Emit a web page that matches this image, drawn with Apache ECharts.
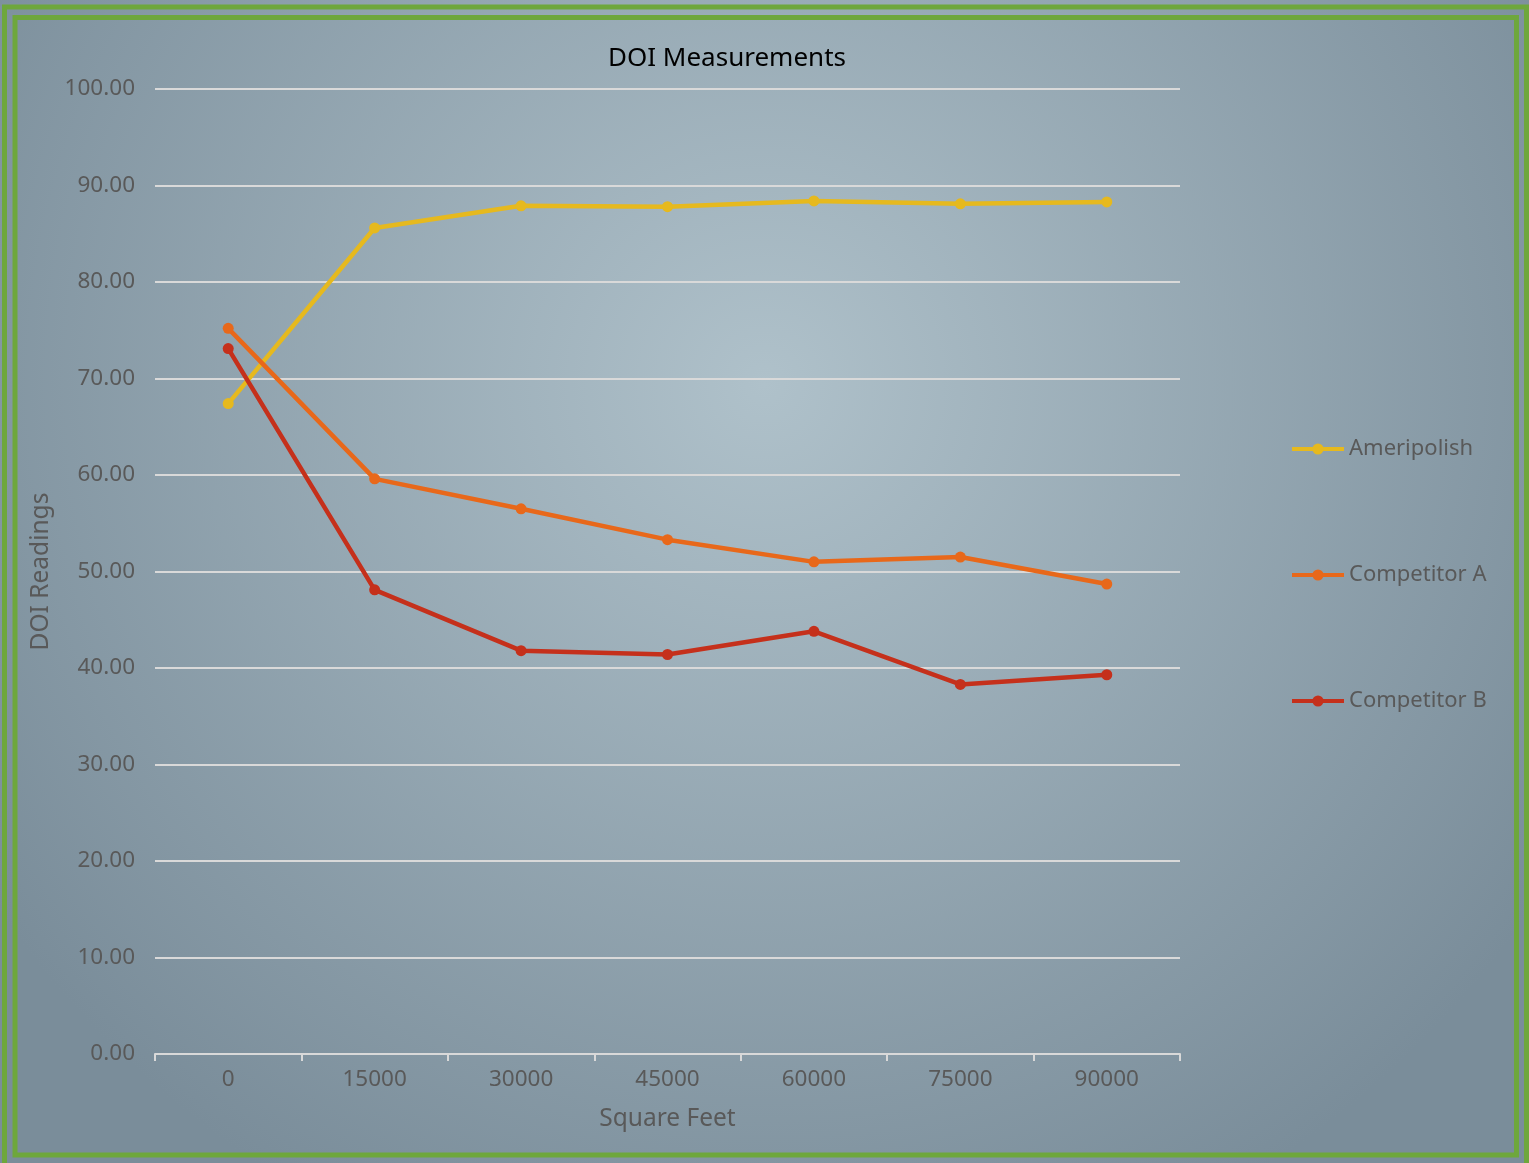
<!DOCTYPE html>
<html>
<head>
<meta charset="utf-8">
<script src="https://cdn.jsdelivr.net/npm/echarts@6/dist/echarts.min.js"></script>
<style>
html,body{margin:0;padding:0;background:#8a9da8;}
#chart{width:1529px;height:1163px;}
</style>
</head>
<body>
<div id="chart"></div>
<script>
const categories = ['0','15000','30000','45000','60000','75000','90000'];
const ameripolish = [67.4, 85.6, 87.9, 87.8, 88.4, 88.1, 88.3];
const competitorA = [75.2, 59.6, 56.5, 53.3, 51.0, 51.5, 48.7];
const competitorB = [73.1, 48.1, 41.8, 41.4, 43.8, 38.3, 39.3];
const yTicks = {min: 0, max: 100, interval: 10};

const FONT = '"Noto Sans", sans-serif';
const colors = ['#E6B91E', '#E8681A', '#C5301B'];
const names = ['Ameripolish', 'Competitor A', 'Competitor B'];
const dataSets = [ameripolish, competitorA, competitorB];
const legendY = [447, 573, 699];

const chart = echarts.init(document.getElementById('chart'), null, {renderer: 'canvas'});
const option = {
  backgroundColor: {
    type: 'radial', x: 0.5, y: 0.33, r: 0.8,
    colorStops: [
      {offset: 0, color: '#afc1ca'},
      {offset: 1, color: '#7a8d9a'}
    ]
  },
  animation: false,
  title: {
    text: 'DOI Measurements',
    left: 722, top: 41, textAlign: 'center',
    textStyle: {fontFamily: FONT, fontSize: 26, fontWeight: 'normal', color: '#000'}
  },
  legend: names.map((n, i) => ({
    data: [n], orient: 'vertical', left: 1285, top: legendY[i] - 14,
    itemWidth: 52, itemHeight: 14,
    lineStyle: {width: 4},
    textStyle: {fontFamily: FONT, fontSize: 22, color: '#595959'}
  })),
  grid: {left: 155, right: 349, top: 89, bottom: 109, containLabel: false},
  xAxis: {
    type: 'category', data: categories, boundaryGap: true,
    name: 'Square Feet', nameLocation: 'middle', nameGap: 53,
    nameTextStyle: {fontFamily: FONT, fontSize: 24.5, color: '#595959'},
    axisLine: {lineStyle: {color: '#d9d9d9', width: 2}},
    axisTick: {show: true, alignWithLabel: false, length: 7, lineStyle: {color: '#d9d9d9', width: 2}},
    axisLabel: {fontFamily: FONT, fontSize: 22.5, color: '#595959', margin: 14}
  },
  yAxis: {
    type: 'value', min: yTicks.min, max: yTicks.max, interval: yTicks.interval,
    name: 'DOI Readings', nameLocation: 'middle', nameGap: 100,
    nameTextStyle: {fontFamily: FONT, fontSize: 24.5, color: '#595959'},
    axisLine: {show: false}, axisTick: {show: false},
    axisLabel: {fontFamily: FONT, fontSize: 22.5, color: '#595959', margin: 20, formatter: v => v.toFixed(2)},
    splitLine: {lineStyle: {color: '#d9d9d9', width: 2}}
  },
  series: names.map((n, i) => ({
    name: n, type: 'line', data: dataSets[i],
    symbol: 'circle', symbolSize: 11,
    itemStyle: {color: colors[i]},
    lineStyle: {color: colors[i], width: 4.5}
  })),
  graphic: [
    {type: 'rect', shape: {x: 4.5, y: 7, width: 1522, height: 1160}, style: {fill: null, stroke: '#6ea73c', lineWidth: 5}, silent: true},
    {type: 'rect', shape: {x: 15, y: 17.5, width: 1501.5, height: 1137.5}, style: {fill: null, stroke: '#6ea73c', lineWidth: 5}, silent: true}
  ]
};
chart.setOption(option);
</script>
</body>
</html>
